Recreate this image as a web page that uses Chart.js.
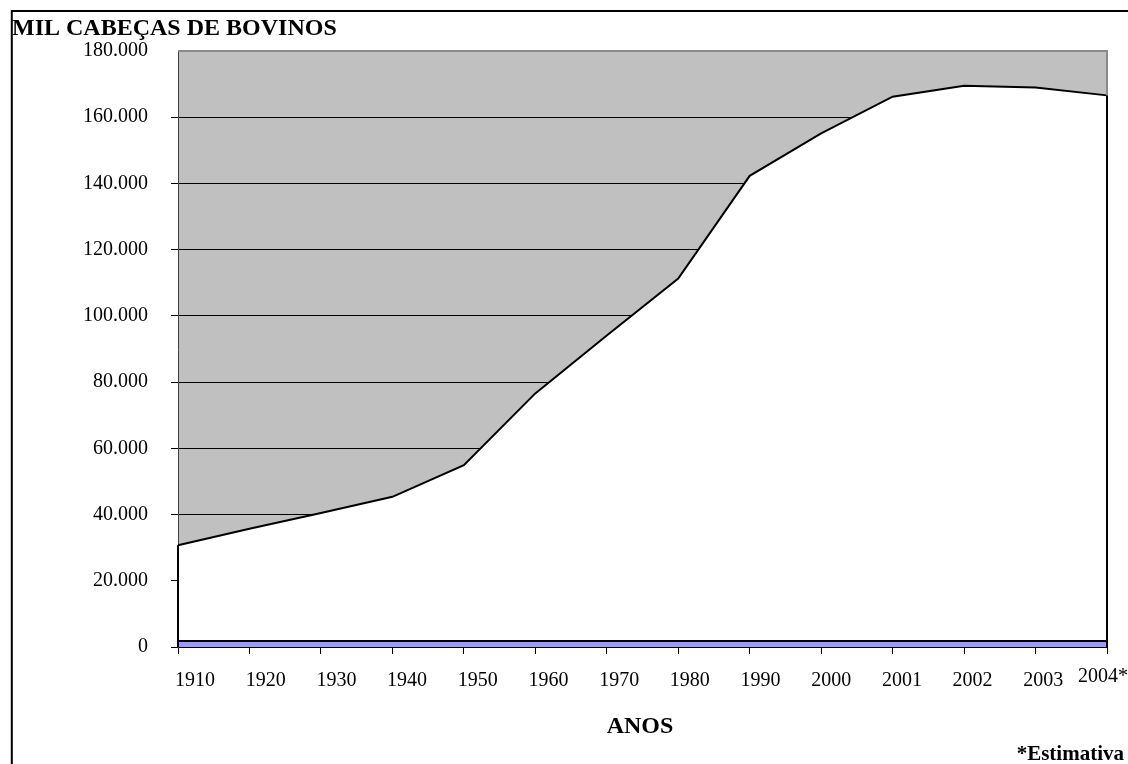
<!DOCTYPE html>
<html>
<head>
<meta charset="utf-8">
<title>Rebanho bovino</title>
<script src="https://cdn.jsdelivr.net/npm/chart.js@4.4.1/dist/chart.umd.min.js"></script>
<style>
  html, body { margin: 0; padding: 0; background: #ffffff; }
  #wrap { position: relative; width: 1128px; height: 764px; }
</style>
</head>
<body>
<div id="wrap"><canvas id="chart" width="1128" height="764"></canvas></div>
<script>
// Anos (categorias do eixo X)
const anos = ['1910', '1920', '1930', '1940', '1950', '1960', '1970', '1980', '1990', '2000', '2001', '2002', '2003', '2004*'];
// Rebanho bovino, em mil cabeças
const rebanho = [30750, 35700, 40500, 45350, 54900, 76600, 94100, 111300, 142300, 155100, 166200, 169500, 169000, 166600];
// Faixa de base junto ao eixo
const faixaBase = [1800, 1800, 1800, 1800, 1800, 1800, 1800, 1800, 1800, 1800, 1800, 1800, 1800, 1800];
// Escala vertical
const yMin = 0;
const yMax = 180000;
const yPasso = 20000;

const SERIF = "'Liberation Serif', 'Times New Roman', serif";

function formatMil(v) {
  return v.toString().replace(/\B(?=(\d{3})+(?!\d))/g, '.');
}

const decor = {
  id: 'decor',
  beforeDraw(chart) {
    const { ctx, chartArea: a } = chart;
    ctx.save();
    // moldura externa (topo e esquerda)
    ctx.strokeStyle = '#000';
    ctx.lineWidth = 2;
    ctx.beginPath();
    ctx.moveTo(1128, 11);
    ctx.lineTo(11.8, 11);
    ctx.lineTo(11.8, 764);
    ctx.stroke();
    // fundo da área de plotagem
    ctx.fillStyle = '#C0C0C0';
    ctx.fillRect(a.left, a.top, a.right - a.left, a.bottom - a.top);
    ctx.restore();
  },
  afterDatasetsDraw(chart) {
    const { ctx, chartArea: a, scales } = chart;
    const x = scales.x, y = scales.y;
    ctx.save();
    // contorno vertical da área nas extremidades
    ctx.strokeStyle = '#000';
    ctx.lineWidth = 2;
    const last = rebanho.length - 1;
    ctx.beginPath();
    ctx.moveTo(x.getPixelForValue(0), y.getPixelForValue(rebanho[0]));
    ctx.lineTo(x.getPixelForValue(0), y.getPixelForValue(0));
    ctx.moveTo(x.getPixelForValue(last), y.getPixelForValue(rebanho[last]));
    ctx.lineTo(x.getPixelForValue(last), y.getPixelForValue(0));
    ctx.stroke();
    // borda superior e direita da área de plotagem
    ctx.strokeStyle = '#8a8a8a';
    ctx.lineWidth = 2;
    ctx.beginPath();
    ctx.moveTo(a.left, a.top);
    ctx.lineTo(a.right, a.top);
    ctx.lineTo(a.right, y.getPixelForValue(rebanho[last]));
    ctx.stroke();
    ctx.restore();
  },
  afterDraw(chart) {
    const { ctx, scales } = chart;
    const x = scales.x;
    ctx.save();
    ctx.fillStyle = '#000';
    // rótulos do eixo X, levemente à direita de cada marca
    ctx.font = '20px ' + SERIF;
    ctx.textBaseline = 'middle';
    const n = anos.length;
    anos.forEach((lab, i) => {
      if (i === n - 1) {
        ctx.textAlign = 'right';
        ctx.fillText(lab, 1128, 677);
      } else {
        ctx.textAlign = 'center';
        ctx.fillText(lab, x.getPixelForValue(i) + 17 - 10 * i / 13, 681);
      }
    });
    // título do eixo Y
    ctx.font = 'bold 24px ' + SERIF;
    ctx.textAlign = 'left';
    ctx.textBaseline = 'alphabetic';
    ctx.fillText('MIL CABEÇAS DE BOVINOS', 12, 35);
    // título do eixo X
    ctx.textAlign = 'center';
    ctx.textBaseline = 'middle';
    ctx.fillText('ANOS', 640, 727);
    // nota
    ctx.font = 'bold 21px ' + SERIF;
    ctx.textAlign = 'right';
    ctx.fillText('*Estimativa', 1124, 755);
    ctx.restore();
  }
};

new Chart(document.getElementById('chart'), {
  type: 'line',
  data: {
    labels: anos,
    datasets: [
      {
        label: 'Rebanho',
        data: rebanho,
        fill: 'origin',
        backgroundColor: '#FFFFFF',
        borderColor: '#000000',
        borderWidth: 2,
        pointRadius: 0,
        tension: 0,
        order: 2
      },
      {
        label: 'Base',
        data: faixaBase,
        fill: 'origin',
        backgroundColor: '#9999FF',
        borderColor: '#000000',
        borderWidth: 2,
        pointRadius: 0,
        tension: 0,
        order: 1
      }
    ]
  },
  options: {
    responsive: false,
    animation: false,
    devicePixelRatio: 1,
    layout: { padding: { top: 51, right: 21, left: 0, bottom: 0 } },
    plugins: {
      legend: { display: false },
      tooltip: { enabled: false },
      title: { display: false }
    },
    scales: {
      x: {
        type: 'category',
        offset: false,
        grid: {
          drawOnChartArea: false,
          drawTicks: true,
          tickLength: 7,
          color: '#000',
          lineWidth: 1
        },
        border: { display: true, color: '#000', width: 2 },
        ticks: { display: false, autoSkip: false },
        afterFit(scale) { scale.height = 117; }
      },
      y: {
        min: yMin,
        max: yMax,
        grid: {
          drawTicks: true,
          tickLength: 7,
          color: (c) => (c.tick && c.tick.value === yMax ? 'rgba(0,0,0,0)' : '#000'),
          lineWidth: 1
        },
        border: { display: true, color: '#404040', width: 1 },
        ticks: {
          stepSize: yPasso,
          padding: 23,
          color: '#000',
          font: { family: SERIF, size: 20 },
          callback: (v) => formatMil(v)
        },
        afterFit(scale) { scale.width = 178; }
      }
    }
  },
  plugins: [decor]
});
</script>
</body>
</html>
